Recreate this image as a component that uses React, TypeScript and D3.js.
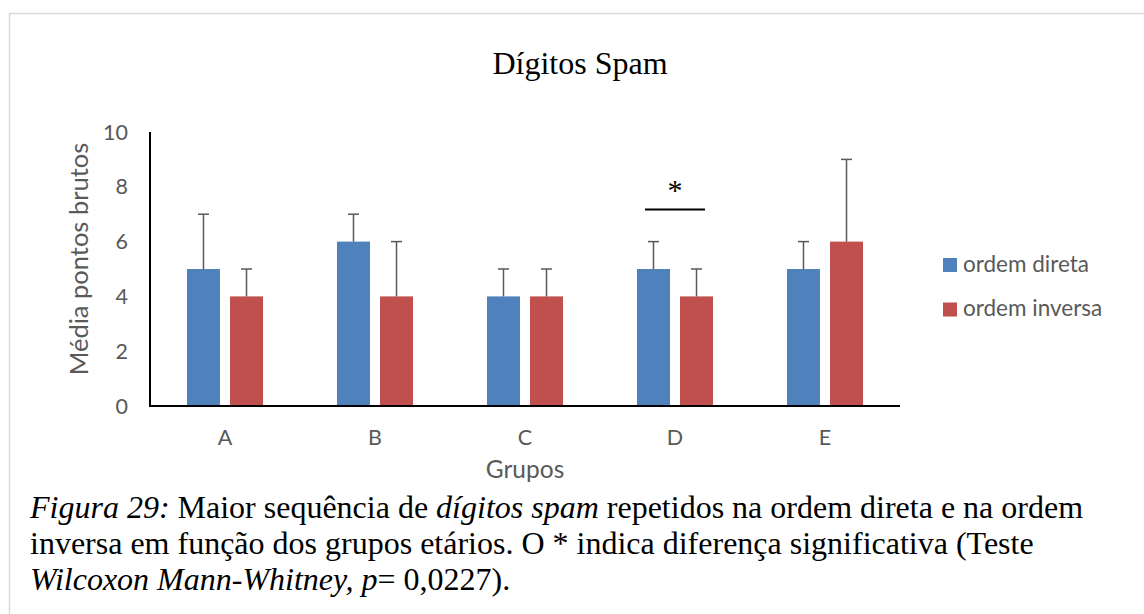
import React from "react";
import * as d3 from "d3";

const categories = ["A", "B", "C", "D", "E"];
const seriesNames = ["ordem direta", "ordem inversa"];
const directValues = [5, 6, 4, 5, 5];
const inverseValues = [4, 4, 4, 4, 6];
const directErrors = [2, 1, 1, 1, 1];
const inverseErrors = [1, 2, 1, 1, 3];
const yTicks = [0, 2, 4, 6, 8, 10];
const sigCategory = "D";
const sigLevel = 7.17;
const colors = ["#4f81bd", "#c0504d"];

const W = 1144;
const H = 614;
const plot = { left: 150, right: 900, top: 132, bottom: 406 };
const sans = "Lato, 'Open Sans', sans-serif";
const serif = "'Liberation Serif', 'Times New Roman', serif";

export default function App() {
  const x = d3.scaleBand<string>().domain(categories).range([plot.left, plot.right]).paddingInner(0.493).paddingOuter(0.2465);
  const xInner = d3.scaleBand<number>().domain([0, 1]).range([0, x.bandwidth()]).paddingInner(10 / 43).paddingOuter(0);
  const y = d3.scaleLinear().domain([0, 10]).range([plot.bottom, plot.top]);
  const series = [
    { vals: directValues, errs: directErrors },
    { vals: inverseValues, errs: inverseErrors },
  ];
  const sx0 = (x(sigCategory) ?? 0) + 8;
  const sx1 = (x(sigCategory) ?? 0) + x.bandwidth() - 8;

  return (
    <svg width={W} height={H} style={{ position: "absolute", left: 0, top: 0, background: "#fff" }}>
      <rect x={0} y={0} width={W} height={H} fill="#fff" />
      <path d={`M9.5,${H} V13.5 H${W}`} fill="none" stroke="#d9d9d9" strokeWidth={1.5} />
      <text x={580} y={74} textAnchor="middle" fontFamily={serif} fontSize={32} fill="#000">Dígitos Spam</text>

      {yTicks.map((t) => (
        <text key={t} x={128} y={y(t)} dy="0.35em" textAnchor="end" fontFamily={sans} fontSize={21.5} fill="#595959">{t}</text>
      ))}
      <text transform={`translate(88,${(plot.top + plot.bottom) / 2 - 10}) rotate(-90)`} textAnchor="middle" fontFamily={sans} fontSize={25.5} fill="#595959">Média pontos brutos</text>

      {series.map((s, si) =>
        categories.map((c, ci) => {
          const bx = (x(c) ?? 0) + (xInner(si) ?? 0);
          const bw = xInner.bandwidth();
          const cx = bx + bw / 2;
          return (
            <g key={`${si}-${ci}`}>
              <rect x={bx} y={y(s.vals[ci])} width={bw} height={y(0) - y(s.vals[ci])} fill={colors[si]} />
              <line x1={cx} x2={cx} y1={y(s.vals[ci])} y2={y(s.vals[ci] + s.errs[ci])} stroke="#595959" strokeWidth={1.5} />
              <line x1={cx - 5.5} x2={cx + 5.5} y1={y(s.vals[ci] + s.errs[ci])} y2={y(s.vals[ci] + s.errs[ci])} stroke="#595959" strokeWidth={1.5} />
            </g>
          );
        })
      )}

      <line x1={plot.left} x2={plot.left} y1={plot.top} y2={plot.bottom + 1} stroke="#000" strokeWidth={2} />
      <line x1={plot.left - 1} x2={plot.right} y1={plot.bottom} y2={plot.bottom} stroke="#000" strokeWidth={2} />

      {categories.map((c) => (
        <text key={c} x={(x(c) ?? 0) + x.bandwidth() / 2} y={445} textAnchor="middle" fontFamily={sans} fontSize={21.5} fill="#595959">{c}</text>
      ))}
      <text x={525} y={478} textAnchor="middle" fontFamily={sans} fontSize={24.5} fill="#595959">Grupos</text>

      <line x1={sx0} x2={sx1} y1={y(sigLevel)} y2={y(sigLevel)} stroke="#000" strokeWidth={2} />
      <text x={(sx0 + sx1) / 2} y={200} textAnchor="middle" fontFamily={serif} fontSize={30} fill="#000">*</text>

      {seriesNames.map((n, i) => (
        <g key={n}>
          <rect x={943} y={258 + i * 44.5} width={14} height={14} fill={colors[i]} />
          <text x={963} y={272 + i * 44} fontFamily={sans} fontSize={22.5} fill="#595959">{n}</text>
        </g>
      ))}

      <text fontFamily={serif} fontSize={32} fill="#000">
        <tspan x={30} y={518}><tspan fontStyle="italic">Figura 29:</tspan> Maior sequência de <tspan fontStyle="italic">dígitos spam</tspan> repetidos na ordem direta e na ordem</tspan>
        <tspan x={30} y={554}>inversa em função dos grupos etários. O * indica diferença significativa (Teste</tspan>
        <tspan x={30} y={590}><tspan fontStyle="italic">Wilcoxon Mann-Whitney, p</tspan>= 0,0227).</tspan>
      </text>
    </svg>
  );
}
